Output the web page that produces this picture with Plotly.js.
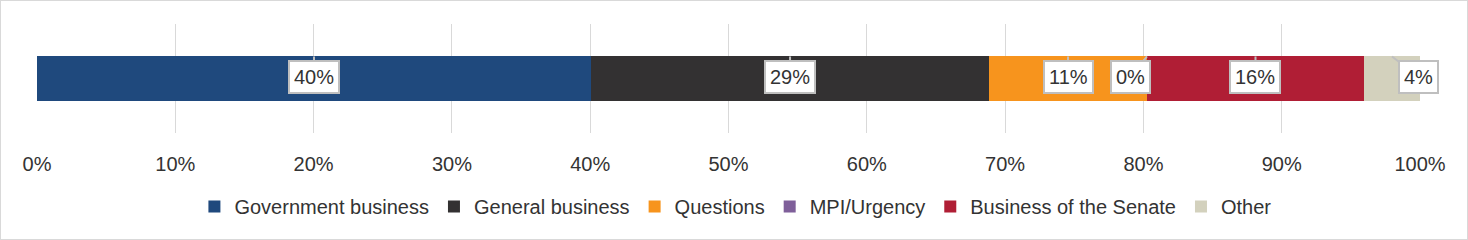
<!DOCTYPE html>
<html>
<head>
<meta charset="utf-8">
<script src="https://cdn.plot.ly/plotly-3.0.1.min.js"></script>
<style>
  html, body { margin: 0; padding: 0; background: #fff; }
  #frame { width: 1468px; height: 240px; box-sizing: border-box; border: 1px solid #d9d9d9; }
  #chart { width: 1466px; height: 238px; }
</style>
</head>
<body>
<div id="frame"><div id="chart"></div></div>
<script>
// ---- data ----
const categories = ['Government business', 'General business', 'Questions', 'MPI/Urgency', 'Business of the Senate', 'Other'];
const values = [40.06, 28.78, 11.42, 0.0, 15.69, 4.05];
const valueLabels = ['40%', '29%', '11%', '0%', '16%', '4%'];
const colors = ['#1f497d', '#333132', '#f7941d', '#7f5f9a', '#b01e35', '#d3d1bd'];
const xTicks = [0, 10, 20, 30, 40, 50, 60, 70, 80, 90, 100];

// ---- style ----
const FONT = "'Liberation Sans', Arial, sans-serif";
const TEXT = '#333333';
const BAR_WIDTH = 0.404;
const calloutDx = [0, 0, 0, -17, 0, 27];

const traces = categories.map((name, i) => ({
  type: 'bar',
  orientation: 'h',
  name: name,
  x: [values[i]],
  y: [0],
  width: BAR_WIDTH,
  marker: { color: colors[i], line: { width: 0 } },
  hoverinfo: 'skip'
}));

let cum = 0;
const annotations = values.map((v, i) => {
  const mid = cum + v / 2;
  cum += v;
  return {
    x: mid, y: BAR_WIDTH / 2, xref: 'x', yref: 'y',
    text: valueLabels[i],
    showarrow: true, arrowhead: 0, arrowwidth: 2, arrowcolor: '#bfbfbf',
    ax: calloutDx[i], ay: 21,
    bgcolor: '#ffffff', bordercolor: '#bfbfbf', borderwidth: 2, borderpad: 4,
    font: { family: FONT, size: 20, color: TEXT }
  };
});

const layout = {
  width: 1466, height: 238,
  margin: { l: 36, r: 47, t: 23, b: 106 },
  paper_bgcolor: '#ffffff', plot_bgcolor: '#ffffff',
  barmode: 'stack',
  showlegend: true,
  font: { family: FONT, size: 20, color: TEXT },
  xaxis: {
    range: [0, 100], tickvals: xTicks, ticktext: xTicks.map(t => t + '%'),
    showgrid: true, gridcolor: '#d9d9d9', gridwidth: 1,
    zeroline: false, showline: false, ticks: '',
    ticklabelstandoff: 17,
    tickfont: { family: FONT, size: 20, color: TEXT }, fixedrange: true
  },
  yaxis: { range: [-0.5, 0.5], visible: false, fixedrange: true },
  legend: {
    orientation: 'h', x: 0.505, xanchor: 'center', y: -0.675, yanchor: 'middle',
    font: { family: FONT, size: 20, color: TEXT }, traceorder: 'normal'
  },
  annotations: annotations
};

Plotly.newPlot('chart', traces, layout, { displayModeBar: false, staticPlot: true });
</script>
</body>
</html>
